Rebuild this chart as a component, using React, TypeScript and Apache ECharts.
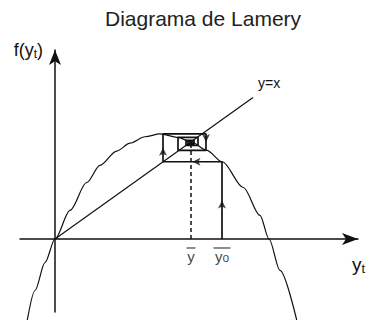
import React, { useEffect, useRef } from "react";
import * as echarts from "echarts";

const FONT = "'Liberation Sans', Arial, sans-serif";
const INK = "#111";

// Map f(y_t), sampled along the curve: abscissa y_t and ordinate f(y_t)
const curveX = [-0.277, -0.2, -0.1, 0, 0.15, 0.317, 0.45, 0.617, 0.75, 0.9, 1.05, 1.23, 1.36, 1.517, 1.673, 1.883, 2.05, 2.14, 2.25, 2.417];
const curveY = [-1.133, -0.72, -0.33, 0, 0.4, 0.79, 1.03, 1.23, 1.34, 1.43, 1.47, 1.42, 1.36, 1.24, 1.08, 0.72, 0.33, 0, -0.44, -1.133];

// 45-degree reference line y = x
const diagX = [0, 1.98];
const diagY = [0, 1.98];

// Fixed point and starting value
const yBar = 1.36;
const y0 = 1.67;

// Cobweb path from y0 spiralling into the fixed point
const cobwebX = [y0, y0, 1.08, 1.08, 1.51, 1.51, 1.23, 1.23, 1.43, 1.43, 1.31, 1.31, 1.39, 1.39, 1.33, 1.33, 1.37, 1.37, 1.35];
const cobwebY = [0, 1.08, 1.08, 1.47, 1.47, 1.24, 1.24, 1.42, 1.42, 1.31, 1.31, 1.38, 1.38, 1.33, 1.33, 1.37, 1.37, 1.35, 1.35];

// Segments of the cobweb that carry a direction arrow
const arrowSegments = [0, 1, 2, 4];

// Labels under the horizontal axis
const tickValues = [yBar, y0];
const tickMain = ["y", "y"];
const tickSub = ["", "o"];

const zip = (xs: number[], ys: number[]) => xs.map((x, i) => [x, ys[i]]);

export default function App() {
  const ref = useRef<HTMLDivElement>(null);

  useEffect(() => {
    if (!ref.current) return;
    const chart = echarts.init(ref.current, undefined, { renderer: "svg" });

    const arrows = arrowSegments.map((i) => {
      const xa = cobwebX[i], ya = cobwebY[i];
      const xb = cobwebX[i + 1], yb = cobwebY[i + 1];
      const dx = xb - xa, dy = yb - ya;
      let rot = 0;
      if (Math.abs(dy) >= Math.abs(dx)) rot = dy > 0 ? 0 : 180;
      else rot = dx < 0 ? 90 : -90;
      return { value: [(xa + xb) / 2, (ya + yb) / 2], symbolRotate: rot };
    });

    const ticks = tickValues.map((v, i) => ({
      value: [v, 0],
      label: {
        formatter: `{${tickSub[i] ? "olb" : "ola"}| }\n{m|${tickMain[i]}}${tickSub[i] ? `{s|${tickSub[i]}}` : ""}`,
      },
    }));

    chart.setOption({
      animation: false,
      title: {
        text: "Diagrama de Lamery",
        left: 105,
        top: 8,
        padding: 0,
        textStyle: { fontFamily: FONT, fontSize: 21, fontWeight: "normal", color: "#222" },
      },
      grid: { left: 20, right: 12, top: 50, bottom: 8, containLabel: false, outerBoundsMode: "none" },
      xAxis: {
        type: "value",
        min: -0.35,
        max: 3.03,
        axisLine: {
          onZero: true,
          lineStyle: { color: INK, width: 1.5 },
          symbol: ["none", "arrow"],
          symbolSize: [9, 16],
        },
        axisTick: { show: false },
        splitLine: { show: false },
        axisLabel: { show: false },
        name: "{m|y}{s|t}",
        nameLocation: "end",
        nameGap: -6,
        nameTextStyle: {
          align: "left",
          verticalAlign: "top",
          padding: [16, 0, 0, 0],
          rich: {
            m: { fontFamily: FONT, fontSize: 19, color: INK, lineHeight: 20 },
            s: { fontFamily: FONT, fontSize: 13, color: INK, lineHeight: 20, verticalAlign: "bottom", padding: [7, 0, 0, 0] },
          },
        },
      },
      yAxis: {
        type: "value",
        min: -1.021,
        max: 2.643,
        axisLine: {
          onZero: true,
          lineStyle: { color: INK, width: 1.5 },
          symbol: ["none", "arrow"],
          symbolSize: [9, 15],
        },
        axisTick: { show: false },
        splitLine: { show: false },
        axisLabel: { show: false },
        name: "{m|f(y}{s|t}{m|)}",
        nameLocation: "end",
        nameGap: 0,
        nameTextStyle: {
          align: "right",
          verticalAlign: "middle",
          padding: [0, 12, 0, 0],
          rich: {
            m: { fontFamily: FONT, fontSize: 18, color: INK, lineHeight: 20 },
            s: { fontFamily: FONT, fontSize: 12, color: INK, lineHeight: 20, verticalAlign: "bottom", padding: [6, 0, 0, 0] },
          },
        },
      },
      series: [
        {
          type: "line",
          data: zip(curveX, curveY),
          smooth: 0.3,
          smoothMonotone: "x",
          showSymbol: false,
          clip: false,
          lineStyle: { color: INK, width: 1.2 },
          z: 2,
        },
        {
          type: "line",
          data: zip(diagX, diagY),
          showSymbol: false,
          clip: false,
          lineStyle: { color: INK, width: 1.2 },
          endLabel: {
            show: true,
            formatter: "y=x",
            distance: 5,
            offset: [0, -14],
            fontFamily: FONT,
            fontSize: 14,
            color: INK,
          },
          z: 2,
        },
        {
          type: "line",
          data: [[yBar, 0], [yBar, yBar]],
          showSymbol: false,
          lineStyle: { color: INK, width: 1.5, type: [4, 3] },
          z: 3,
        },
        {
          type: "line",
          data: zip(cobwebX, cobwebY),
          showSymbol: false,
          lineStyle: { color: INK, width: 1.7 },
          z: 4,
        },
        {
          type: "scatter",
          data: arrows,
          symbol: "arrow",
          symbolSize: [6, 8],
          itemStyle: { color: INK },
          z: 5,
        },
        {
          type: "scatter",
          data: ticks,
          symbolSize: 1,
          itemStyle: { color: "rgba(0,0,0,0)" },
          label: {
            show: true,
            position: "bottom",
            distance: 7,
            align: "center",
            rich: {
              ola: { width: 9, height: 1.2, lineHeight: 3, backgroundColor: INK, fontSize: 1 },
              olb: { width: 17, height: 1.2, lineHeight: 3, backgroundColor: INK, fontSize: 1 },
              m: { fontFamily: FONT, fontSize: 15, color: INK, lineHeight: 15 },
              s: { fontFamily: FONT, fontSize: 12, color: INK, lineHeight: 15, verticalAlign: "bottom", padding: [5, 0, 0, 0] },
            },
          },
          z: 5,
        },
      ],
    });

    return () => chart.dispose();
  }, []);

  return (
    <div
      ref={ref}
      style={{ position: "fixed", left: 0, top: 0, width: 370, height: 320, background: "#fff" }}
    />
  );
}
